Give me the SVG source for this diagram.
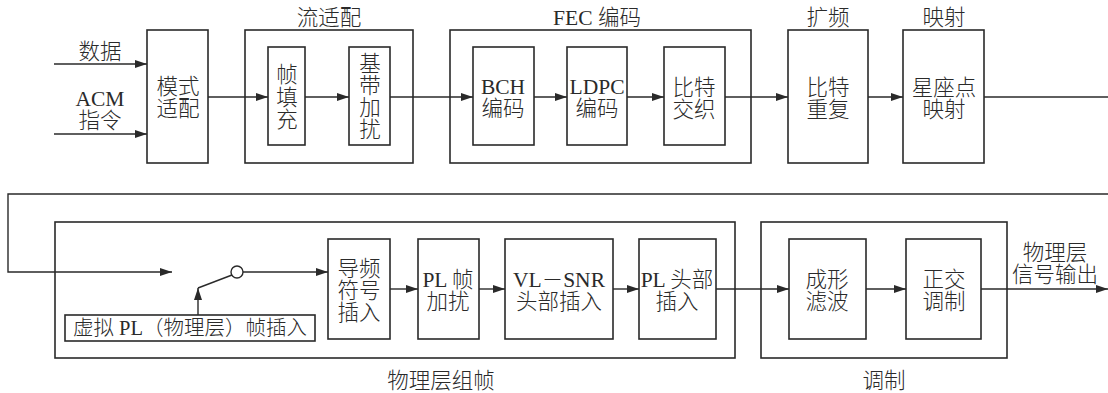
<svg xmlns="http://www.w3.org/2000/svg" width="1108" height="393" viewBox="0 0 1108 393">
<defs>
<style>
.b{fill:none;stroke:#2a2a2a;stroke-width:1.6}
.l{fill:none;stroke:#2a2a2a;stroke-width:1.4}
.a{fill:none;stroke:#2a2a2a;stroke-width:1.4;marker-end:url(#ar)}
text{font-family:"Liberation Serif","Noto Sans CJK SC",serif;font-size:21.5px;font-weight:300;fill:#2a2a2a;text-anchor:middle;dominant-baseline:central}
.s{font-size:20.5px}
</style>
<marker id="ar" viewBox="0 0 12 8" refX="12" refY="4" markerWidth="12" markerHeight="8" markerUnits="userSpaceOnUse" orient="auto">
<path d="M0,0 L12,4 L0,8 Z" fill="#2a2a2a"/>
</marker>
</defs>
<rect width="1108" height="393" fill="#fff"/>

<g id="connectors">
<line class="a" x1="54" y1="64" x2="147" y2="64"/>
<line class="a" x1="54" y1="134" x2="147" y2="134"/>
<line class="a" x1="208" y1="97" x2="268" y2="97"/>
<line class="a" x1="305" y1="97" x2="349" y2="97"/>
<line class="a" x1="390" y1="97" x2="473" y2="97"/>
<line class="a" x1="534" y1="97" x2="567" y2="97"/>
<line class="a" x1="627" y1="97" x2="664" y2="97"/>
<line class="a" x1="725" y1="97" x2="788" y2="97"/>
<line class="a" x1="868" y1="97" x2="903" y2="97"/>
<line class="l" x1="984" y1="97" x2="1108" y2="97"/>
<polyline class="a" points="1108,194 8,194 8,272 172,272"/>
<line class="a" x1="243" y1="272" x2="328" y2="272"/>
<line class="l" x1="198" y1="288" x2="232" y2="275"/>
<line class="a" x1="198" y1="315" x2="198" y2="288"/>
<line class="a" x1="390" y1="289" x2="418" y2="289"/>
<line class="a" x1="479" y1="289" x2="505" y2="289"/>
<line class="a" x1="613" y1="289" x2="639" y2="289"/>
<line class="a" x1="716" y1="289" x2="789" y2="289"/>
<line class="a" x1="866" y1="289" x2="906" y2="289"/>
<line class="a" x1="981" y1="289" x2="1108" y2="289"/>
<circle cx="237" cy="272" r="6" fill="#fff" stroke="#2a2a2a" stroke-width="1.4"/>
</g>

<g id="labels">
<text x="100" y="52">数据</text>
<text x="100" y="99">ACM<tspan x="100" dy="22">指令</tspan></text>
<text x="1055" y="253">物理层<tspan x="1055" dy="22">信号输出</tspan></text>
</g>

<g id="mode-adapt">
<rect class="b" x="147" y="30" width="61" height="133"/>
<text x="178" y="87">模式<tspan x="178" dy="22">适配</tspan></text>
</g>

<g id="stream-adapt">
<rect class="b" x="245" y="30" width="168" height="133"/>
<text x="329" y="18">流适配</text>
</g>
<g id="frame-fill">
<rect class="b" x="268" y="47" width="37" height="98"/>
<text x="287" y="75">帧<tspan x="287" dy="22.5">填</tspan><tspan x="287" dy="22.5">充</tspan></text>
</g>
<g id="bb-scramble">
<rect class="b" x="349" y="47" width="41" height="98"/>
<text x="370" y="64">基<tspan x="370" dy="22">带</tspan><tspan x="370" dy="22">加</tspan><tspan x="370" dy="22">扰</tspan></text>
</g>

<g id="fec">
<rect class="b" x="450" y="30" width="301" height="133"/>
<text x="597" y="18">FEC 编码</text>
</g>
<g id="bch">
<rect class="b" x="473" y="47" width="61" height="98"/>
<text x="503" y="87">BCH<tspan x="503" dy="22">编码</tspan></text>
</g>
<g id="ldpc">
<rect class="b" x="567" y="47" width="60" height="98"/>
<text x="597" y="87">LDPC<tspan x="597" dy="22">编码</tspan></text>
</g>
<g id="interleave">
<rect class="b" x="664" y="47" width="61" height="98"/>
<text x="694" y="88">比特<tspan x="694" dy="22">交织</tspan></text>
</g>

<g id="spread">
<rect class="b" x="788" y="30" width="80" height="133"/>
<text x="828" y="18">扩频</text>
<text x="828" y="88">比特<tspan x="828" dy="22">重复</tspan></text>
</g>

<g id="mapping">
<rect class="b" x="903" y="30" width="81" height="133"/>
<text x="944" y="18">映射</text>
<text x="944" y="88">星座点<tspan x="944" dy="22">映射</tspan></text>
</g>

<g id="pl-framing">
<rect class="b" x="55" y="222" width="680" height="136"/>
<text x="441" y="381">物理层组帧</text>
</g>
<g id="dummy-frame">
<rect class="b" x="65" y="315" width="250" height="26"/>
<text x="190" y="328" class="s">虚拟 PL（物理层）帧插入</text>
</g>
<g id="pilot">
<rect class="b" x="328" y="239" width="62" height="100"/>
<text x="359" y="269">导频<tspan x="359" dy="22">符号</tspan><tspan x="359" dy="22">插入</tspan></text>
</g>
<g id="pl-scramble">
<rect class="b" x="418" y="239" width="61" height="100"/>
<text x="448" y="280">PL 帧<tspan x="448" dy="22">加扰</tspan></text>
</g>
<g id="vlsnr">
<rect class="b" x="505" y="239" width="108" height="100"/>
<text x="559" y="280">VL－SNR<tspan x="559" dy="22">头部插入</tspan></text>
</g>
<g id="pl-header">
<rect class="b" x="639" y="239" width="77" height="100"/>
<text x="677" y="280">PL 头部<tspan x="677" dy="22">插入</tspan></text>
</g>

<g id="modulation">
<rect class="b" x="761" y="222" width="246" height="136"/>
<text x="884" y="381">调制</text>
</g>
<g id="shaping">
<rect class="b" x="789" y="239" width="77" height="100"/>
<text x="827" y="280">成形<tspan x="827" dy="22">滤波</tspan></text>
</g>
<g id="iq-mod">
<rect class="b" x="906" y="239" width="75" height="100"/>
<text x="944" y="280">正交<tspan x="944" dy="22">调制</tspan></text>
</g>
</svg>
